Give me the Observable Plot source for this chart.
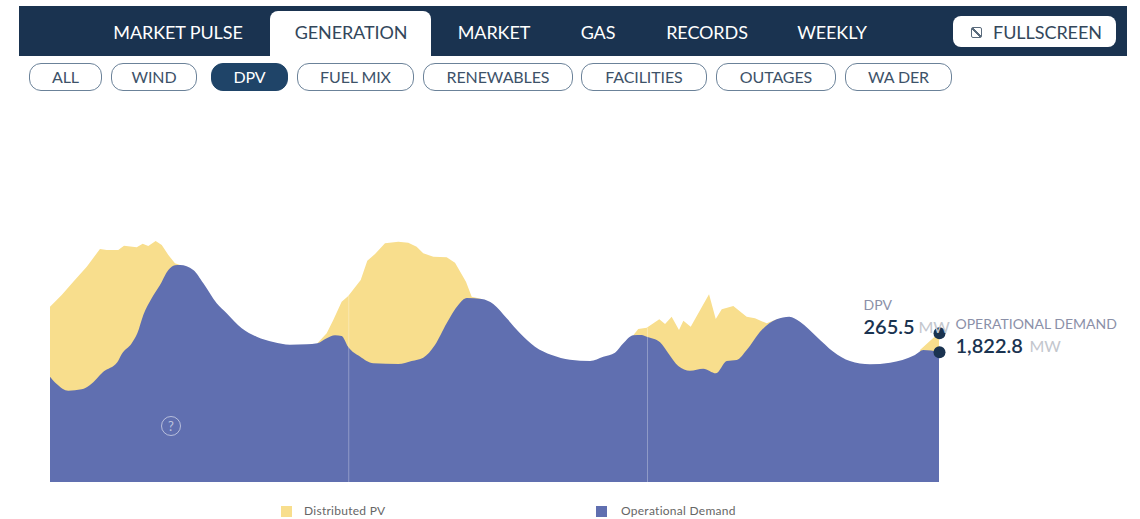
<!DOCTYPE html>
<html><head><meta charset="utf-8">
<script src="https://cdn.jsdelivr.net/npm/d3@7"></script>
<script src="https://cdn.jsdelivr.net/npm/@observablehq/plot@0.6"></script>
<style>
html,body{margin:0;padding:0;background:#fff;overflow:hidden;font-family:Lato,sans-serif}
#wrap{position:relative;width:1140px;height:519px;overflow:hidden}
#chart{position:absolute;left:0;top:0}
#band{position:absolute;left:19px;top:6px;width:1108px;height:50px;background:#1a3350}
.tab{position:absolute;top:6px;height:50px;line-height:52px;color:#fff;font-size:18px;transform:translateX(-50%);white-space:nowrap;letter-spacing:-.1px}
#active{position:absolute;left:270px;top:11px;width:161px;height:45px;background:#fff;border-radius:8px 8px 0 0}
#fs{position:absolute;left:953px;top:16px;width:163px;height:31px;background:#fff;border-radius:8px;color:#33475b;font-size:18px;line-height:33px}
#fs span{position:absolute;left:40px;letter-spacing:-.05px}
#fs i{position:absolute;left:18px;top:11px;width:9px;height:9px;border:1.5px solid #5a6b7c;border-radius:2px;background:linear-gradient(45deg,transparent 42%,#5a6b7c 42%,#5a6b7c 58%,transparent 58%)}
.pill{position:absolute;top:63px;height:26px;line-height:26px;border:1.5px solid #6b8299;border-radius:12px;text-align:center;font-size:16px;color:#3d5269;box-sizing:content-box;letter-spacing:-.1px}
.pill.on{background:#1f4468;color:#fff;border-color:#1f4468}
#help{position:absolute;left:161px;top:416px;width:18px;height:18px;border:1.5px solid rgba(255,255,255,.55);border-radius:50%;color:rgba(255,255,255,.6);font-size:13px;line-height:18px;text-align:center}
.sw{position:absolute;top:506px;width:11px;height:11px}
.lg{position:absolute;top:503px;font-size:12px;color:#666;letter-spacing:.27px;white-space:nowrap}
</style></head><body>
<div id="wrap">
<div id="chart"></div>
<div id="band"></div><div id="active"></div>
<div id="tabs"></div>
<div id="fs"><i></i><span>FULLSCREEN</span></div>
<div id="pills"></div>
<div id="help">?</div>
<div class="sw" style="left:281px;background:#f8de8d"></div><div class="lg" style="left:304px">Distributed PV</div>
<div class="sw" style="left:596px;background:#606fb0"></div><div class="lg" style="left:621px">Operational Demand</div>
</div>
<script>
const tabNames = ["MARKET PULSE","GENERATION","MARKET","GAS","RECORDS","WEEKLY"];
const tabCentres = [178,351,494,598,707,832];
const pillNames = ["ALL","WIND","DPV","FUEL MIX","RENEWABLES","FACILITIES","OUTAGES","WA DER"];
const pillLefts = [29,111,211,297,423,581,716,845];
const pillWidths = [74,87,78,118,151,127,121,108];

const demandHours = [0,0.54,1.47,2.54,3.21,4.28,5.40,5.76,6.56,7.01,7.49,8.16,8.83,9.50,10.03,10.44,11.50,12.31,13.38,14.18,15.39,16.59,17.92,19.26,20.61,21.46,22.21,22.88,23.41,23.94,24.88,25.95,27.96,29.03,29.96,30.90,31.84,32.77,33.45,34.65,35.58,36.66,37.73,38.93,40.27,41.74,43.35,44.41,45.35,46.02,46.82,47.50,47.90,48.97,49.63,50.43,51.37,52.44,53.46,54.32,55.12,55.92,57.13,58.33,59.34,60.20,61.54,62.88,64.21,65.82,67.43,69.43,70.10,71.36];
const demandMW = [1474,1372,1278,1298,1358,1544,1676,1792,1942,2082,2338,2572,2758,2968,3034,3038,2968,2782,2502,2362,2152,2034,1960,1922,1928,1942,2012,2054,2044,1890,1757,1662,1652,1694,1740,1918,2222,2478,2576,2562,2492,2292,2082,1894,1778,1712,1694,1754,1810,1942,2054,2058,2034,1956,1802,1624,1558,1586,1522,1694,1708,1848,2128,2278,2314,2244,2034,1824,1694,1648,1670,1778,1848,1822.8];

const dpvHours = [0,0.94,1.87,2.95,4.01,4.55,5.48,5.94,6.96,7.44,7.89,8.48,8.97,9.50,10.03,10.44,15,21.46,22.21,22.74,23.41,23.94,24.94,25.47,26.09,26.89,27.96,28.76,29.43,29.96,30.77,31.84,32.51,33.39,33.85,34.65,40,46.82,47.22,47.90,48.91,49.37,49.90,50.49,50.84,51.43,52.90,53.44,53.92,54.85,55.92,56.59,57.53,58.33,65,69.83,71.36];
const dpvTopMW = [2454,2618,2804,3014,3262,3248,3248,3308,3286,3336,3304,3374,3318,3178,3062,3038,null,1942,2082,2268,2524,2604,2828,3098,3192,3342,3364,3350,3294,3202,3154,3146,3070,2804,2594,2562,null,2054,2142,2160,2278,2212,2314,2128,2258,2174,2628,2282,2418,2464,2314,2292,2222,2278,null,1848,2088.3];

const dayStarts = [23.94,47.92];
const dayTops = [2604,2160];
const endHour = 71.36;
const endDemand = 1822.8;
const endDpvTop = 2088.3;

const idx = a => a.map((_, i) => i);
const lblFont = "Lato, sans-serif";

const plot = Plot.plot({
  width: 1140, height: 519,
  marginLeft: 50, marginRight: 201, marginTop: 232, marginBottom: 37,
  x: {domain: [0, endHour], axis: null},
  y: {domain: [0, 3500], axis: null},
  style: {background: "transparent", fontFamily: lblFont},
  marks: [
    Plot.areaY(idx(dpvHours), {x: i => dpvHours[i], y1: 0, y2: i => dpvTopMW[i], fill: "#f8de8d"}),
    Plot.areaY(idx(demandHours), {x: i => demandHours[i], y1: 0, y2: i => demandMW[i], fill: "#606fb0", curve: "monotone-x"}),
    Plot.ruleX(idx(dayStarts), {x: i => dayStarts[i], y1: 0, y2: i => dayTops[i], stroke: "#fff", strokeOpacity: 0.3, strokeWidth: 1}),
    Plot.dot([0], {x: () => endHour, y: () => endDpvTop, r: 6, fill: "#1a3350"}),
    Plot.dot([0], {x: () => endHour, y: () => endDemand, r: 6, fill: "#1a3350"}),
    Plot.text(["DPV"], {x: () => endHour, y: () => endDpvTop, text: d => d, dx: -76, dy: -28, textAnchor: "start", fontSize: 14, fill: "#8b90a8"}),
    Plot.text(["265.5"], {x: () => endHour, y: () => endDpvTop, text: d => d, dx: -76, dy: -6, textAnchor: "start", fontSize: 20, fontWeight: 600, fill: "#1a3350"}),
    Plot.text(["MW"], {x: () => endHour, y: () => endDpvTop, text: d => d, dx: -21, dy: -5, textAnchor: "start", fontSize: 16, fill: "#c3c6cd"}),
    Plot.text(["OPERATIONAL DEMAND"], {x: () => endHour, y: () => endDemand, text: d => d, dx: 16, dy: -28, textAnchor: "start", fontSize: 14, fill: "#8b90a8"}),
    Plot.text(["1,822.8"], {x: () => endHour, y: () => endDemand, text: d => d, dx: 16, dy: -6, textAnchor: "start", fontSize: 20, fontWeight: 600, fill: "#1a3350"}),
    Plot.text(["MW"], {x: () => endHour, y: () => endDemand, text: d => d, dx: 90, dy: -5, textAnchor: "start", fontSize: 16, fill: "#c3c6cd"})
  ]
});
document.getElementById("chart").append(plot);

const tabs = document.getElementById("tabs");
tabNames.forEach((t, i) => {
  const d = document.createElement("div");
  d.className = "tab"; d.textContent = t; d.style.left = tabCentres[i] + "px";
  if (t === "GENERATION") d.style.color = "#33475b";
  tabs.append(d);
});
const pills = document.getElementById("pills");
pillNames.forEach((t, i) => {
  const d = document.createElement("div");
  d.className = "pill" + (t === "DPV" ? " on" : "");
  d.textContent = t; d.style.left = pillLefts[i] + "px"; d.style.width = (pillWidths[i] - 3) + "px";
  pills.append(d);
});
</script>
</body></html>
